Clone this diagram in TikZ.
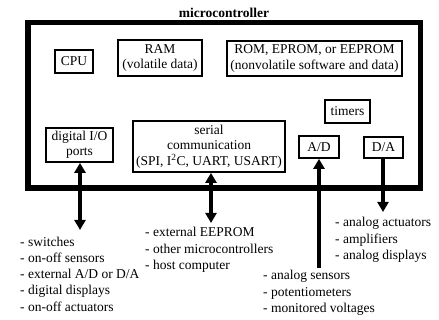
\documentclass[tikz,border=0pt]{standalone}
\usepackage{fontspec}
\setmainfont{Liberation Serif}
\usetikzlibrary{arrows.meta}
\begin{document}
\begin{tikzpicture}[x=1pt,y=-1pt,
  unit/.style={draw, line width=1.7pt, inner sep=0pt, align=center,
    font=\fontsize{13.5}{15.5}\selectfont},
  bus/.style={line width=4pt},
  tip/.tip={Triangle[length=10pt,width=11pt]},
  list/.style={align=left, inner sep=0pt, anchor=west,
    font=\fontsize{13.5}{16.3}\selectfont}]
\useasboundingbox (0,0) rectangle (439,320);

% chip outline and title
\node[draw, line width=5.5pt, inner sep=0pt, minimum width=392.5pt,
  minimum height=165.5pt] (mcu) at (224.25,105.25) {};
\node[font=\bfseries\fontsize{13.5}{15}\selectfont, inner sep=0pt] (title) at (224,13) {microcontroller};

% on-chip units
\node[unit, minimum width=38pt, minimum height=23pt] (cpu) at (74,61.5) {CPU};
\node[unit, minimum width=84pt, minimum height=36pt] (ram) at (160,58) {RAM\\(volatile data)};
\node[unit, minimum width=175pt, minimum height=35pt] (rom) at (314.5,58.5)
  {ROM, EPROM, or EEPROM\\(nonvolatile software and data)};
\node[unit, minimum width=45pt, minimum height=23pt] (timers) at (347.5,111.5) {timers};
\node[unit, minimum width=40pt, minimum height=22pt] (ad) at (319,147) {A/D};
\node[unit, minimum width=39pt, minimum height=21pt] (da) at (383.5,147.5) {D/A};
\node[unit, minimum width=67pt, minimum height=34pt] (dio) at (79.5,145) {digital I/O\\ports};
\node[unit, minimum width=152pt, minimum height=51pt] (serial) at (209,146.5)
  {serial\\communication\\(SPI, I\textsuperscript{2}C, UART, USART)};

% outside ends of the signal lines
\coordinate (dioend) at (80,230);
\coordinate (serend) at (211,223);
\coordinate (adend) at (319,268);
\coordinate (daend) at (383,212);

% signal lines
\draw[bus, tip-tip] (dio.south -| dioend) -- (dioend);
\draw[bus, tip-tip] (serial.south -| serend) -- (serend);
\draw[bus, tip-] (ad.south -| adend) -- (adend);
\draw[bus, -tip] (da.south -| daend) -- (daend);

% external devices
\node[list] (diolist) at (20,274) {- switches\\- on-off sensors\\- external A/D or D/A\\- digital displays\\- on-off actuators};
\node[list] (serlist) at (145,250) {- external EEPROM\\- other microcontrollers\\- host computer};
\node[list] (adlist) at (263,293) {- analog sensors\\- potentiometers\\- monitored voltages};
\node[list] (dalist) at (335,240) {- analog actuators\\- amplifiers\\- analog displays};
\end{tikzpicture}
\end{document}
